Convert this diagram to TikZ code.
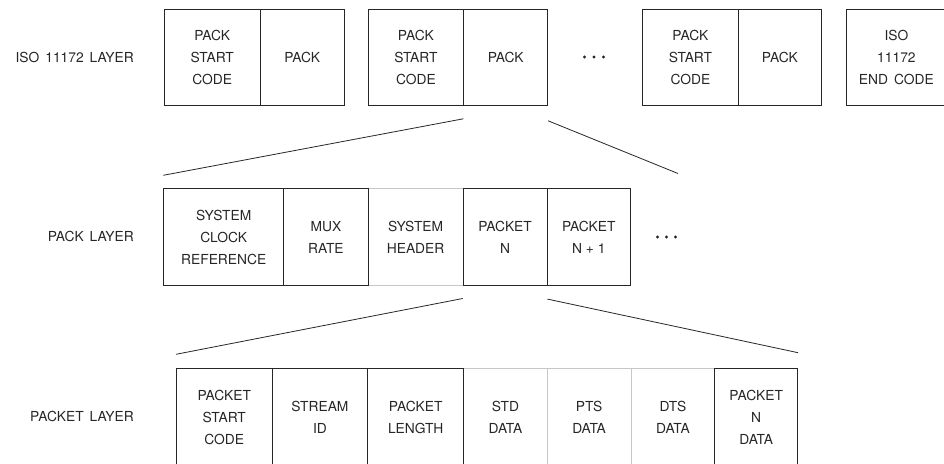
\documentclass[tikz,border=0pt]{standalone}
\usepackage{fontspec}
\setmainfont{TeX Gyre Heros}
\begin{document}
\begin{tikzpicture}[x=1pt,y=-1pt,
  cell/.style={draw=black!85, line width=0.8pt, anchor=north west, inner sep=0pt,
    align=center, font=\fontsize{13.8}{22}\selectfont, text=black!85},
  graycell/.style={cell, draw=black!22},
  lbl/.style={anchor=east, inner sep=0pt, font=\fontsize{13.8}{22}\selectfont, text=black!85},
  link/.style={draw=black!85, line width=0.8pt},
  dotmark/.style={circle, fill=black!85, inner sep=0pt, minimum size=3.2pt}]
\useasboundingbox (0,0) rectangle (944,463);
\clip (0,0) rectangle (944,463);

% layer labels
\node[lbl] (l1) at (134,57) {ISO\hspace{6pt}11172\hspace{6pt}LAYER};
\node[lbl] (l2) at (134,236) {PACK\hspace{6pt}LAYER};
\node[lbl] (l3) at (134,416) {PACKET\hspace{6pt}LAYER};

% ISO 11172 layer
\node[cell, minimum width=96.3pt, minimum height=96pt] (psc1) at (163.7,9) {PACK\\START\\CODE};
\node[cell, minimum width=83.7pt, minimum height=96pt] (pack1) at (260,9) {PACK};
\node[cell, minimum width=95.6pt, minimum height=96pt] (psc2) at (367.7,9) {PACK\\START\\CODE};
\node[cell, minimum width=84pt, minimum height=96pt] (pack2) at (463.3,9) {PACK};
\node[dotmark] (d1) at (584.5,57) {};
\node[dotmark] (d2) at (594,57) {};
\node[dotmark] (d3) at (603.5,57) {};
\node[cell, minimum width=96pt, minimum height=96pt] (psc3) at (642,9) {PACK\\START\\CODE};
\node[cell, minimum width=83pt, minimum height=96pt] (pack3) at (738,9) {PACK};
\node[cell, minimum width=100pt, minimum height=96pt] (isoend) at (846,9) {ISO\\11172\\END\hspace{6pt}CODE};

% Pack layer
\node[graycell, minimum width=95pt, minimum height=96.7pt] (sh) at (367.7,188.3) {SYSTEM\\HEADER};
\node[cell, minimum width=120pt, minimum height=96.7pt] (scr) at (163.3,188.3) {SYSTEM\\CLOCK\\REFERENCE};
\node[cell, minimum width=84.4pt, minimum height=96.7pt] (mux) at (283.3,188.3) {MUX\\RATE};
\node[cell, minimum width=84pt, minimum height=96.7pt] (pn) at (462.7,188.3) {PACKET\\N};
\node[cell, minimum width=83.3pt, minimum height=96.7pt] (pn1) at (546.7,188.3) {PACKET\\N + 1};
\node[dotmark] (e1) at (657.5,237) {};
\node[dotmark] (e2) at (666.5,237) {};
\node[dotmark] (e3) at (675.5,237) {};

% Packet layer
\node[graycell, minimum width=83.4pt, minimum height=97pt] (std) at (463.3,368.3) {STD\\DATA};
\node[graycell, minimum width=84pt, minimum height=97pt] (pts) at (546.7,368.3) {PTS\\DATA};
\node[graycell, minimum width=83.6pt, minimum height=97pt] (dts) at (630.7,368.3) {DTS\\DATA};
\node[cell, minimum width=95.7pt, minimum height=97pt] (psc) at (176,368.3) {PACKET\\START\\CODE};
\node[cell, minimum width=95.6pt, minimum height=97pt] (sid) at (271.7,368.3) {STREAM\\ID};
\node[cell, minimum width=96pt, minimum height=97pt] (plen) at (367.3,368.3) {PACKET\\LENGTH};
\node[cell, minimum width=83pt, minimum height=97pt] (pnd) at (714.3,368.3) {PACKET\\N\\DATA};

% expansion lines
\coordinate (r1) at (678,173.5);
\draw[link] ([yshift=-13pt]pack2.south west) -- ([yshift=13pt]scr.north west);
\draw[link] ([yshift=-15pt]pack2.south east) -- (r1);
\draw[link] ([yshift=-12.7pt]pn.south west) -- ([yshift=14pt]psc.north west);
\draw[link] ([yshift=-13.3pt]pn.south east) -- ([yshift=15.6pt]pnd.north east);
\end{tikzpicture}
\end{document}
